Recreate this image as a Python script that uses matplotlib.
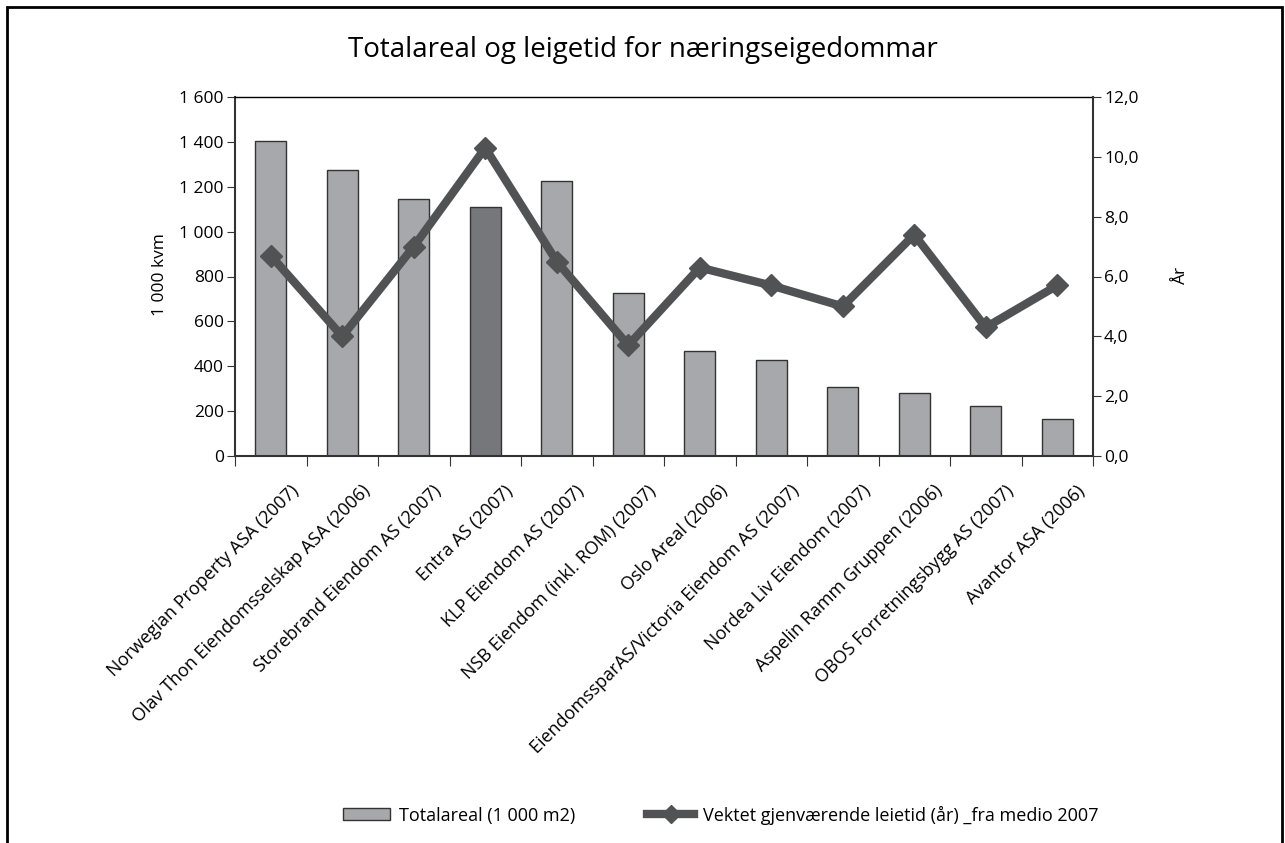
import matplotlib
matplotlib.use('Agg')
import matplotlib.pyplot as plt
import matplotlib.transforms as mtransforms
from matplotlib.patches import Rectangle, Patch
from matplotlib.lines import Line2D
import numpy as np

plt.rcParams['font.family'] = ['Open Sans', 'DejaVu Sans']

companies = ["Norwegian Property ASA (2007)", "Olav Thon Eiendomsselskap ASA (2006)",
             "Storebrand Eiendom AS (2007)", "Entra AS (2007)", "KLP Eiendom AS (2007)",
             "NSB Eiendom (inkl. ROM) (2007)", "Oslo Areal (2006)",
             "EiendomssparAS/Victoria Eiendom AS (2007)", "Nordea Liv Eiendom (2007)",
             "Aspelin Ramm Gruppen (2006)", "OBOS Forretningsbygg AS (2007)", "Avantor ASA (2006)"]
totalareal = [1405, 1275, 1145, 1110, 1225, 725, 469, 428, 309, 282, 223, 166]
leietid = [6.7, 4.0, 7.0, 10.3, 6.5, 3.7, 6.3, 5.7, 5.0, 7.4, 4.3, 5.7]

bar_col = '#a7a8ab'
entra_col = '#76777b'
line_col = '#505254'

fig = plt.figure(figsize=(12.85, 8.43), dpi=100)
ax = fig.add_axes([235/1285, 1-456/843, (1093-235)/1285, (456-97)/843])
x = np.arange(len(companies))
colors = [bar_col]*len(companies)
colors[3] = entra_col
ax.bar(x, totalareal, width=0.43, color=colors, edgecolor='#333333', linewidth=1.0, zorder=2)
ax.set_xlim(-0.5, len(companies)-0.5)
ax.set_ylim(0, 1600)
ax.set_yticks(range(0, 1601, 200))
ax.set_yticklabels([f"{v:,}".replace(",", " ") for v in range(0, 1601, 200)], fontsize=12.5)

# category boundaries as ticks
ax.set_xticks(np.arange(-0.5, len(companies)))
ax.set_xticklabels([])
ax.tick_params(axis='x', direction='out', length=7, color='#333333')
ax.tick_params(axis='y', direction='out', length=6, color='#333333', pad=2)
for s in ['left', 'bottom']:
    ax.spines[s].set_color('#333333')
    ax.spines[s].set_linewidth(1.5)
ax.spines['top'].set_linewidth(1.0)
ax.spines['right'].set_visible(False)

offset = mtransforms.ScaledTranslation(25/100, -32/100, fig.dpi_scale_trans)
for i, name in enumerate(companies):
    ax.text(i, 0, name, rotation=45, ha='right', va='center', rotation_mode='anchor',
            fontsize=13, transform=ax.transData + offset)

ax2 = ax.twinx()
ax2.plot(x, leietid, color=line_col, linewidth=6, marker='D', markersize=11, zorder=3)
ax2.set_ylim(0, 12)
ax2.set_yticks(np.arange(0, 12.1, 2))
ax2.set_yticklabels([f"{v:.1f}".replace(".", ",") for v in np.arange(0, 12.1, 2)], fontsize=12.5)
ax2.tick_params(axis='y', direction='out', length=6, color='#333333', pad=2)
ax2.spines['right'].set_color('#333333')
ax2.spines['right'].set_linewidth(1.5)
for s in ['left', 'top', 'bottom']:
    ax2.spines[s].set_visible(False)

fig.text(160/1285, 1-275/843, "1 000 kvm", rotation=90, ha='center', va='center', fontsize=12.5)
fig.text(1181/1285, 1-275/843, "År", rotation=90, ha='center', va='center', fontsize=12.5)
fig.text(0.5, 1-50/843, "Totalareal og leigetid for næringseigedommar", ha='center', va='center', fontsize=20)

handles = [Patch(facecolor=bar_col, edgecolor='#333333', linewidth=1.0),
           Line2D([0], [0], color=line_col, linewidth=6, marker='D', markersize=9)]
labels = ["Totalareal (1 000 m2)", "Vektet gjenværende leietid (år) _fra medio 2007"]
fig.legend(handles, labels, loc='center', bbox_to_anchor=(0.561, 1-815/843), ncol=2,
           frameon=False, fontsize=13, columnspacing=4, handlelength=2.6, handletextpad=0.5,
           handleheight=0.6)

fig.add_artist(Rectangle((7/1285, -0.1), (1282-7)/1285, 1.1-7/843, transform=fig.transFigure,
                         fill=False, edgecolor='black', linewidth=2))

fig.savefig('out.png', dpi=100)
